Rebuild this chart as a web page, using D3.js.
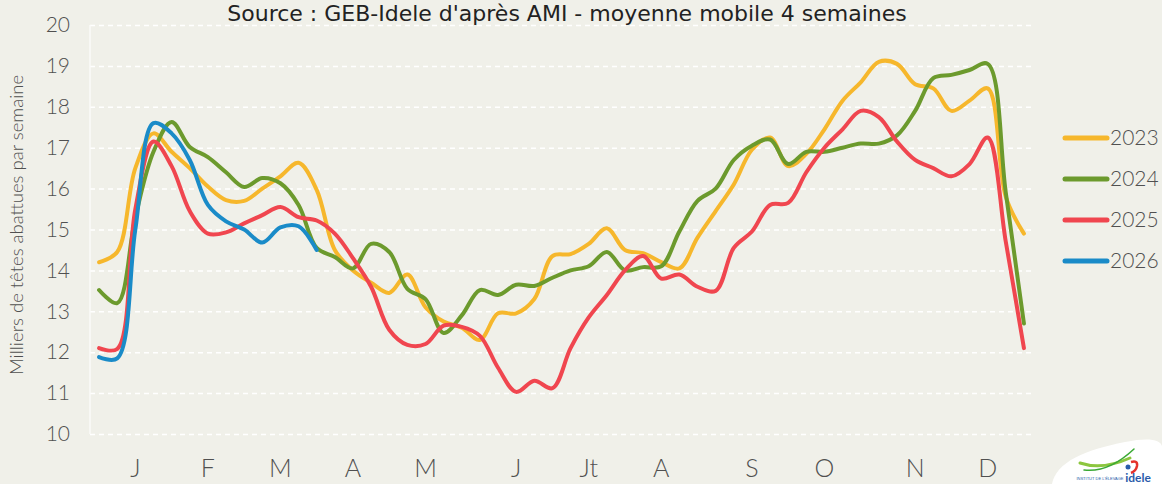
<!DOCTYPE html>
<meta charset='utf-8'>
<style>
body { margin: 0; background: #f0f0e9; }
svg { display: block; }
.axis text { font-family: Lato, sans-serif; font-weight: 300; fill: #505050; }
.grid line { stroke: #fff; stroke-width: 1.5px; stroke-dasharray: 5,4; }
path.serie { fill: none; stroke-width: 4px; stroke-linecap: round; stroke-linejoin: round; }
.legend text { font-family: Lato, sans-serif; font-weight: 300; font-size: 21px; fill: #505050; }
</style>
<svg width='1162' height='484'></svg>
<script src="https://cdn.jsdelivr.net/npm/d3@7"></script>
<script>

// weeks 1..52 (categories)
const weeks = d3.range(1, 53);

const monthLabels = ['J', 'F', 'M', 'A', 'M', 'J', 'Jt', 'A', 'S', 'O', 'N', 'D'];
const monthWeeks = [3, 7, 11, 15, 19, 24, 28, 32, 37, 41, 46, 50];

const yTicks = [10, 11, 12, 13, 14, 15, 16, 17, 18, 19, 20];

const years = ['2023', '2024', '2025', '2026'];
const colors = ['#f6b72c', '#6c9a2d', '#f0464f', '#1a8bc8'];

const v2023 = [14.2, 14.45, 16.5, 17.35, 16.9, 16.5, 16.05, 15.72, 15.7, 16.0, 16.3, 16.63, 15.97, 14.5, 14.0, 13.7, 13.45, 13.9, 13.1, 12.75, 12.6, 12.3, 12.95, 12.95, 13.3, 14.35, 14.4, 14.65, 15.03, 14.5, 14.42, 14.2, 14.05, 14.8, 15.45, 16.1, 16.95, 17.25, 16.55, 16.85, 17.45, 18.15, 18.6, 19.1, 19.05, 18.55, 18.45, 17.9, 18.15, 18.45, 15.8, 14.9];
const v2024 = [13.52, 13.2, 15.3, 16.9, 17.63, 17.02, 16.77, 16.4, 16.04, 16.26, 16.13, 15.6, 14.55, 14.33, 14.05, 14.65, 14.45, 13.55, 13.3, 12.47, 12.9, 13.52, 13.4, 13.65, 13.62, 13.82, 14.0, 14.1, 14.45, 14.0, 14.08, 14.1, 14.95, 15.7, 16.0, 16.7, 17.05, 17.2, 16.6, 16.9, 16.9, 17.0, 17.1, 17.1, 17.3, 17.9, 18.7, 18.78, 18.9, 19.05, 15.9, 12.7];
const v2025 = [12.1, 12.08, 15.5, 17.15, 16.55, 15.45, 14.9, 14.93, 15.15, 15.35, 15.55, 15.3, 15.22, 14.9, 14.3, 13.6, 12.55, 12.18, 12.2, 12.65, 12.62, 12.4, 11.62, 11.03, 11.3, 11.12, 12.1, 12.85, 13.4, 14.0, 14.35, 13.8, 13.9, 13.6, 13.5, 14.55, 14.95, 15.6, 15.65, 16.4, 17.0, 17.45, 17.9, 17.75, 17.15, 16.7, 16.5, 16.3, 16.6, 17.25, 14.7, 12.1];
const v2026 = [11.88, 11.85, 15.0, 17.6, 17.35, 16.7, 15.6, 15.2, 15.0, 14.68, 15.05, 15.08, 14.5];

const series = [v2023, v2024, v2025, v2026];

const svg = d3.select('svg');

const x = d3.scaleBand()
  .domain(weeks)
  .range([90, 1033]);

const y = d3.scaleLinear()
  .domain([10, 20])
  .range([434, 25]);

const cx = w => x(w) + x.bandwidth() / 2;

// horizontal dashed grid
svg.append('g')
  .attr('class', 'grid')
  .attr('transform', 'translate(90,0)')
  .call(d3.axisLeft(y).tickValues(yTicks).tickSize(-943).tickFormat(''))
  .call(g => g.select('.domain').remove());

// left axis line
svg.append('line')
  .attr('x1', 90).attr('x2', 90)
  .attr('y1', y(20)).attr('y2', y(10))
  .attr('stroke', '#fbfbf8')
  .attr('stroke-width', 1.5);

// y axis labels
svg.append('g')
  .attr('class', 'axis')
  .attr('transform', 'translate(90,0)')
  .call(d3.axisLeft(y).tickValues(yTicks).tickSize(0).tickPadding(20))
  .call(g => g.select('.domain').remove())
  .selectAll('text')
    .style('font-size', '21px');

// x axis month labels
svg.append('g')
  .attr('class', 'axis')
  .attr('transform', 'translate(0,434)')
  .call(d3.axisBottom(x).tickValues(monthWeeks).tickSize(0).tickFormat((d, i) => monthLabels[i]))
  .call(g => g.select('.domain').remove())
  .selectAll('text')
    .attr('dy', 0)
    .attr('y', 43)
    .style('font-size', '25px');

// y title
svg.append('text')
  .attr('transform', 'translate(23,225) rotate(-90)')
  .attr('text-anchor', 'middle')
  .style('font-family', 'Lato, sans-serif')
  .style('font-weight', 300)
  .style('font-size', '18.5px')
  .style('fill', '#505050')
  .text('Milliers de têtes abattues par semaine');

// title
const title = svg.append('text')
  .attr('x', 567)
  .attr('y', 21)
  .attr('text-anchor', 'middle')
  .style('font-family', '"DejaVu Sans", sans-serif')
  .style('font-size', '22px')
  .style('fill', '#222')
  .text("Source : GEB-Idele d'après AMI - moyenne mobile 4 semaines");
const tw = title.node().getComputedTextLength();
title.style('font-size', Math.min(22, 22 * 755 / tw) + 'px');

const line = d3.line()
  .x((d, i) => cx(weeks[i]))
  .y(d => y(d))
  .curve(d3.curveCatmullRom.alpha(0.5));

svg.append('g')
  .selectAll('path')
  .data(series)
  .join('path')
    .attr('class', 'serie')
    .attr('stroke', (d, i) => colors[i])
    .attr('d', line);

// legend
const legend = svg.append('g')
  .attr('class', 'legend')
  .selectAll('g')
  .data(years)
  .join('g')
    .attr('transform', (d, i) => `translate(1065,${138 + i * 41})`);

legend.append('line')
  .attr('x1', 0).attr('x2', 42)
  .attr('stroke', (d, i) => colors[i])
  .attr('stroke-width', 5)
  .attr('stroke-linecap', 'round');

legend.append('text')
  .attr('x', 45)
  .attr('dy', '0.35em')
  .text(d => d);

// logo
const logo = svg.append('g');
logo.append('path')
  .attr('d', 'M1052,484 C1056,462 1085,450 1125,442 C1150,437 1160,440 1162,446 L1162,484 Z')
  .attr('fill', '#fff');
logo.append('path')
  .attr('d', 'M1080,463 C1095,468 1112,466 1130,458')
  .attr('fill', 'none').attr('stroke', '#8cc63f').attr('stroke-width', 3).attr('stroke-linecap', 'round');
logo.append('path')
  .attr('d', 'M1084,470 C1100,472 1118,464 1134,449')
  .attr('fill', 'none').attr('stroke', '#3aa935').attr('stroke-width', 1.5).attr('stroke-linecap', 'round');
logo.append('circle').attr('cx', 1128).attr('cy', 467).attr('r', 2.5).attr('fill', '#2a5caa');
logo.append('path')
  .attr('d', 'M1131,462 Q1138,460 1137,466 Q1136,471 1131,473')
  .attr('fill', 'none').attr('stroke', '#e4322b').attr('stroke-width', 2.5);
logo.append('text')
  .attr('x', 1138).attr('y', 482)
  .attr('text-anchor', 'middle')
  .style('font-family', 'Lato, sans-serif')
  .style('font-weight', 700)
  .style('font-size', '12px')
  .style('fill', '#2a5caa')
  .text('idele');
logo.append('text')
  .attr('x', 1100).attr('y', 480)
  .attr('text-anchor', 'middle')
  .style('font-family', 'sans-serif')
  .style('font-size', '4px')
  .style('fill', '#2a5caa')
  .text('INSTITUT DE L\'ÉLEVAGE');

</script>
